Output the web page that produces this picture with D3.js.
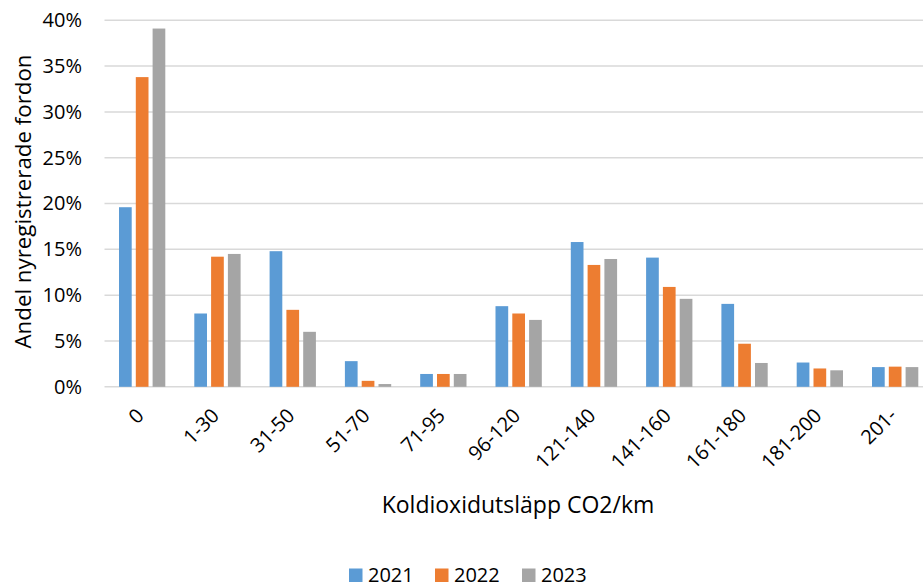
<!DOCTYPE html>
<html>
<head>
<meta charset="utf-8">
<script src="https://cdn.jsdelivr.net/npm/d3@7"></script>
<style>
  html, body { margin: 0; padding: 0; background: #fff; }
  svg { display: block; font-family: "Open Sans", sans-serif; }
</style>
</head>
<body>
<svg id="chart" width="923" height="588"></svg>
<script>
const categories = ["0", "1-30", "31-50", "51-70", "71-95", "96-120", "121-140", "141-160", "161-180", "181-200", "201-"];
const seriesNames = ["2021", "2022", "2023"];
const values2021 = [19.6, 8.0, 14.8, 2.8, 1.4, 8.8, 15.8, 14.1, 9.05, 2.65, 2.15];
const values2022 = [33.8, 14.2, 8.4, 0.65, 1.4, 8.0, 13.3, 10.9, 4.7, 2.0, 2.2];
const values2023 = [39.1, 14.5, 6.0, 0.3, 1.4, 7.3, 13.95, 9.6, 2.6, 1.8, 2.15];
const yTicks = [0, 5, 10, 15, 20, 25, 30, 35, 40];
const colors = ["#5b9bd5", "#ed7d31", "#a5a5a5"];
const yTitle = "Andel nyregistrerade fordon";
const xTitle = "Koldioxidutsläpp CO2/km";

const series = [values2021, values2022, values2023];
const svg = d3.select("#chart");
const FONT = "'Open Sans', sans-serif";

const plotLeft = 104.5, plotRight = 932.8, plotTop = 20.3, plotBottom = 386.8;

const x = d3.scaleBand().domain(categories).range([plotLeft, plotRight]).padding(0);
const groupW = 46.3;
const xInner = d3.scaleBand().domain(seriesNames).range([0, groupW]).paddingInner(0.244).paddingOuter(0);
const y = d3.scaleLinear().domain([0, 40]).range([plotBottom, plotTop]);

// gridlines
svg.append("g").selectAll("line").data(yTicks).join("line")
  .attr("x1", plotLeft).attr("x2", 923)
  .attr("y1", d => y(d)).attr("y2", d => y(d))
  .attr("stroke", "#d9d9d9").attr("stroke-width", 1.5);

// y axis labels
const yAxis = d3.axisLeft(y).tickValues(yTicks).tickFormat(d => d + "%").tickSize(0).tickPadding(0);
const yg = svg.append("g").attr("transform", `translate(${82},0)`).call(yAxis);
yg.select(".domain").remove();
yg.selectAll("text").attr("font-size", 20).attr("fill", "#000").attr("font-family", FONT);

// bars
const groups = svg.append("g").selectAll("g").data(categories).join("g")
  .attr("transform", c => `translate(${x(c) + x.bandwidth() / 2 - groupW / 2},0)`);
groups.selectAll("rect").data((c, i) => seriesNames.map((s, j) => ({ s, v: series[j][i], j })))
  .join("rect")
  .attr("x", d => xInner(d.s))
  .attr("width", xInner.bandwidth())
  .attr("y", d => y(d.v))
  .attr("height", d => y(0) - y(d.v))
  .attr("fill", d => colors[d.j]);

// x axis labels
const xAxis = d3.axisBottom(x).tickSize(0).tickPadding(0);
const xg = svg.append("g").attr("transform", `translate(0,${plotBottom})`).call(xAxis);
xg.select(".domain").remove();
xg.selectAll("text")
  .attr("font-size", 20).attr("fill", "#000")
  .attr("font-family", FONT)
  .attr("text-anchor", "end")
  .attr("dy", null).attr("y", null)
  .attr("transform", "translate(3,30) rotate(-45)");

// axis titles
svg.append("text")
  .attr("transform", `translate(31,${201.5}) rotate(-90)`)
  .attr("text-anchor", "middle").attr("font-size", 22.3).attr("fill", "#000")
  .attr("font-family", FONT)
  .text(yTitle);
svg.append("text")
  .attr("x", 518).attr("y", 513)
  .attr("text-anchor", "middle").attr("font-size", 23).attr("fill", "#000")
  .attr("font-family", FONT)
  .text(xTitle);

// legend
const legendX = [349, 435, 522];
const lg = svg.append("g").selectAll("g").data(seriesNames).join("g")
  .attr("transform", (d, i) => `translate(${legendX[i]},568.5)`);
lg.append("rect").attr("width", 13.5).attr("height", 13.5).attr("fill", (d, i) => colors[i]);
lg.append("text").attr("x", 19).attr("y", 13.5).attr("font-size", 20).attr("fill", "#000")
  .attr("font-family", FONT).text(d => d);
</script>
</body>
</html>
